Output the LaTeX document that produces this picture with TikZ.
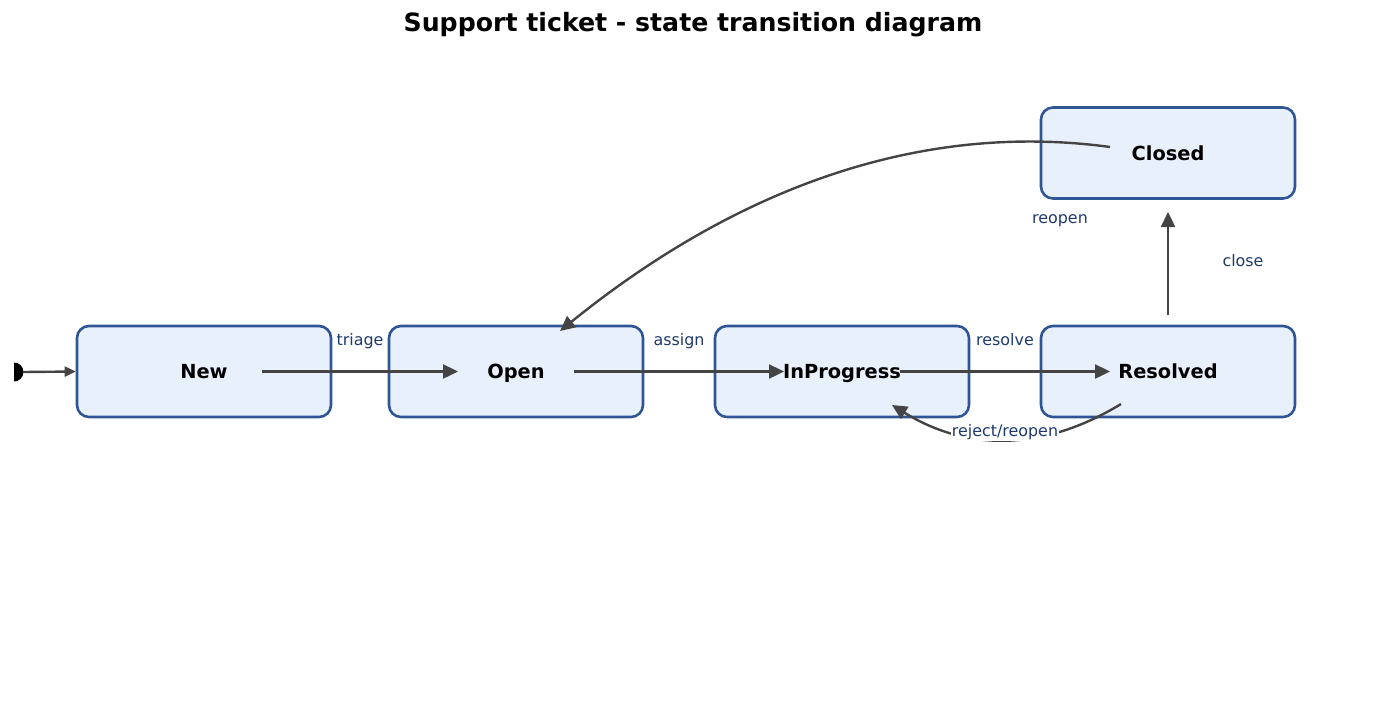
\documentclass[tikz,border=0pt]{standalone}
\usepackage{fontspec}
\setmainfont{DejaVu Sans}
\usetikzlibrary{arrows.meta,positioning}
\definecolor{boxline}{HTML}{2F5597}
\definecolor{boxfill}{HTML}{E8F0FC}
\definecolor{edgecol}{HTML}{444444}
\definecolor{lblcol}{HTML}{1F3A6E}
\begin{document}
\begin{tikzpicture}[x=1pt,y=-1pt,node distance=326pt]
\tikzstyle{state}=[rectangle, rounded corners=12pt, minimum width=254pt, minimum height=91pt, draw=boxline, fill=boxfill, line width=2.6pt, text height=14pt, text depth=0pt, font=\fontsize{19.4}{23}\selectfont\bfseries]
\tikzstyle{trans}=[draw=edgecol, line width=2.4pt, -{Triangle[length=15pt,width=14pt]}]
\tikzstyle{lbl}=[text=lblcol, text height=11.5pt, text depth=3.5pt, font=\fontsize{15.9}{19}\selectfont, inner sep=1pt]
\useasboundingbox (0,0) rectangle (1385,713);
\node (title) at (693,25) {\fontsize{25.2}{30}\selectfont\bfseries Support ticket - state transition diagram};
\node (New) [state] at (204,371.5) {New};
\node (Open) [state, right of=New, xshift=-14pt] {Open};
\node (InProgress) [state, right of=Open] {InProgress};
\node (Resolved) [state, right of=InProgress] {Resolved};
\node (Closed) [state, above of=Resolved, node distance=218.5pt] {Closed};
\coordinate (init) at (14,372);
\fill[black] (init) ++(0,-9.5) arc[start angle=90, end angle=-90, radius=9.5pt] -- cycle;
\draw[draw=edgecol, line width=2.4pt, -{Triangle[length=11pt,width=10pt]}] ([xshift=9pt]init) -- (New.west);
\draw[trans] ([xshift=58pt]New.center) -- ([xshift=-58pt]Open.center);
\draw[trans] ([xshift=58pt]Open.center) -- ([xshift=-58pt]InProgress.center);
\draw[trans] ([xshift=58pt]InProgress.center) -- ([xshift=-58pt]Resolved.center);
\draw[trans] ([yshift=56.5pt]Resolved.center) -- ([yshift=-59pt]Closed.center);
\draw[trans] ([xshift=-58pt,yshift=6pt]Closed.center) .. controls (927,122) and (743,183) .. ([xshift=44pt,yshift=40.5pt]Open.center);
\draw[trans] ([xshift=-47pt,yshift=-32.5pt]Resolved.center) .. controls (1044,451) and (968,452) .. ([xshift=50pt,yshift=-33.5pt]InProgress.center);
\node (triage) [lbl] at (360,341) {triage};
\node (assign) [lbl] at (679,341) {assign};
\node (resolve) [lbl] at (1005,341) {resolve};
\node (close) [lbl] at (1243,262) {close};
\node (reopen) [lbl] at (1060,219) {reopen};
\node (reject) [lbl, fill=white] at (1005,432) {reject/reopen};
\end{tikzpicture}
\end{document}
